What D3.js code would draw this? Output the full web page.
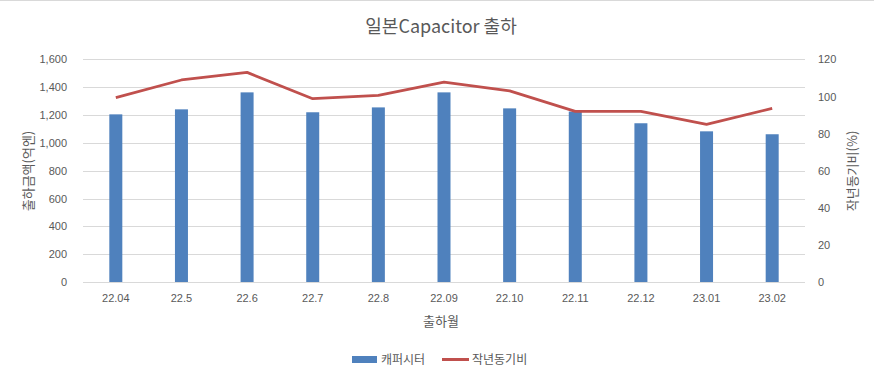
<!DOCTYPE html>
<html><head><meta charset="utf-8">
<script src="https://cdn.jsdelivr.net/npm/d3@7"></script>
<style>body{margin:0;background:#fff}svg{display:block;font-family:"Noto Sans CJK KR","Noto Sans",sans-serif}</style>
</head><body>
<script>
const categories = ["22.04","22.5","22.6","22.7","22.8","22.09","22.10","22.11","22.12","23.01","23.02"];
const capacitor = [1205,1241,1363,1220,1255,1363,1248,1225,1141,1083,1062];
const yoy = [99.4,108.9,113,98.8,100.6,107.8,103,92,92,85,93.6];
const leftTicks = [0,200,400,600,800,1000,1200,1400,1600];
const rightTicks = [0,20,40,60,80,100,120];

const W=874,H=377;
const svg=d3.select("body").append("svg").attr("width",W).attr("height",H);
svg.append("rect").attr("x",0).attr("y",0).attr("width",W).attr("height",H).attr("fill","#fff");
svg.append("line").attr("x1",0).attr("x2",W).attr("y1",0.5).attr("y2",0.5).attr("stroke","#d9d9d9");

const L=83,R=805,T=59.4,B=282;
const x=d3.scaleBand().domain(categories).range([L,R]);
const yL=d3.scaleLinear().domain([0,1600]).range([B,T]);
const yR=d3.scaleLinear().domain([0,120]).range([B,T]);
const txt="#595959";

// gridlines
svg.append("g").selectAll("line").data(leftTicks).join("line")
 .attr("x1",L).attr("x2",R).attr("y1",d=>Math.round(yL(d))+0.5).attr("y2",d=>Math.round(yL(d))+0.5)
 .attr("stroke","#d9d9d9").attr("stroke-width",1);

// bars
const bw=13;
svg.append("g").selectAll("rect").data(capacitor).join("rect")
 .attr("x",(d,i)=>x(categories[i])+x.bandwidth()/2-bw/2).attr("width",bw)
 .attr("y",d=>yL(d)).attr("height",d=>B-yL(d)).attr("fill","#4f81bd");

// line
svg.append("path").datum(yoy)
 .attr("d",d3.line().x((d,i)=>x(categories[i])+x.bandwidth()/2).y(d=>yR(d)))
 .attr("fill","none").attr("stroke","#c0504d").attr("stroke-width",2.75).attr("stroke-linejoin","round");

// left axis labels
const axL=svg.append("g").attr("transform",`translate(${L-13},0)`).call(d3.axisLeft(yL).tickValues(leftTicks).tickFormat(d3.format(",")).tickSize(0));
axL.select(".domain").remove();
axL.selectAll("text").attr("fill",txt).attr("font-size",11).attr("font-family","inherit");

const axR=svg.append("g").attr("transform",`translate(${R+10},0)`).call(d3.axisRight(yR).tickValues(rightTicks).tickSize(0));
axR.select(".domain").remove();
axR.selectAll("text").attr("fill",txt).attr("font-size",11).attr("font-family","inherit");

const axB=svg.append("g").attr("transform",`translate(0,${B+9})`).call(d3.axisBottom(x).tickSize(0));
axB.select(".domain").remove();
axB.selectAll("text").attr("fill",txt).attr("font-size",11).attr("font-family","inherit");

// titles
svg.append("text").attr("x",441).attr("y",33).attr("text-anchor","middle").attr("fill",txt).attr("font-size",18).text("일본Capacitor 출하");
svg.append("text").attr("transform","translate(33,171) rotate(-90)").attr("text-anchor","middle").attr("fill",txt).attr("font-size",13).text("출하금액(억엔)");
svg.append("text").attr("transform","translate(857,171) rotate(-90)").attr("text-anchor","middle").attr("fill",txt).attr("font-size",13).text("작년동기비(%)");
svg.append("text").attr("x",441).attr("y",326).attr("text-anchor","middle").attr("fill",txt).attr("font-size",13).text("출하월");

// legend
const lg=svg.append("g");
lg.append("rect").attr("x",352).attr("y",356).attr("width",25).attr("height",7).attr("fill","#4f81bd");
lg.append("text").attr("x",381).attr("y",364).attr("fill",txt).attr("font-size",12).text("캐퍼시터");
lg.append("line").attr("x1",442).attr("x2",469).attr("y1",359.5).attr("y2",359.5).attr("stroke","#c0504d").attr("stroke-width",3);
lg.append("text").attr("x",472).attr("y",364).attr("fill",txt).attr("font-size",12).text("작년동기비");
</script>
</body></html>
